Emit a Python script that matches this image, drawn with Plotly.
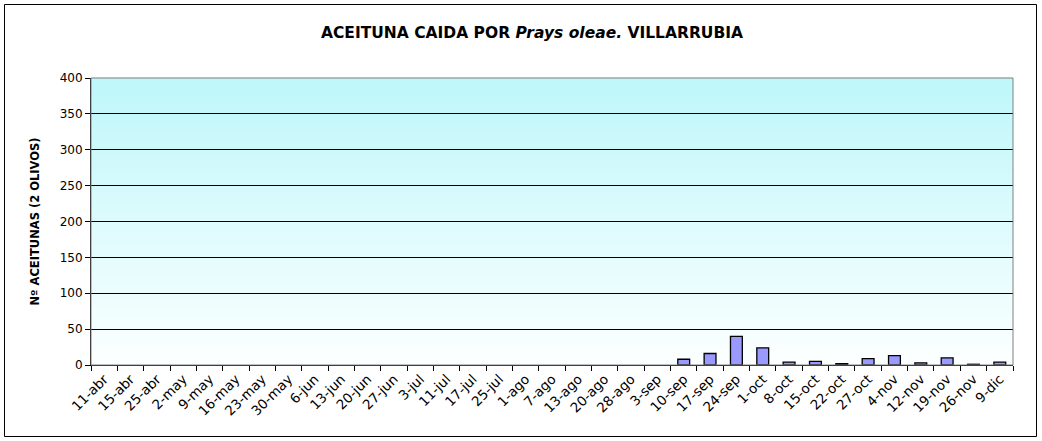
import plotly.graph_objects as go

fechas = ["11-abr", "15-abr", "25-abr", "2-may", "9-may", "16-may", "23-may", "30-may",
          "6-jun", "13-jun", "20-jun", "27-jun", "3-jul", "11-jul", "17-jul", "25-jul",
          "1-ago", "7-ago", "13-ago", "20-ago", "28-ago", "3-sep", "10-sep", "17-sep",
          "24-sep", "1-oct", "8-oct", "15-oct", "22-oct", "27-oct", "4-nov", "12-nov",
          "19-nov", "26-nov", "9-dic"]
aceitunas = [0, 0, 0, 0, 0, 0, 0, 0,
             0, 0, 0, 0, 0, 0, 0, 0,
             0, 0, 0, 0, 0, 0, 8, 16,
             40, 24, 4, 5, 2, 9, 13, 3,
             10, 1, 4]
y_ticks = [0, 50, 100, 150, 200, 250, 300, 350, 400]

FONT = "DejaVu Sans, Arial, sans-serif"
W, H = 1042, 441
L, R, T, B = 91, 29, 78, 76
pw, ph = W - L - R, H - T - B

fig = go.Figure()
fig.add_trace(go.Bar(
    x=fechas, y=aceitunas,
    marker=dict(color="#9999ff",
                line=dict(color="#000000", width=[1.3 if v > 0 else 0 for v in aceitunas])),
    width=0.45,
))

shapes = []
# gradient background bands (decoration)
n = 60
top = (190, 247, 250)
bot = (252, 255, 255)
for i in range(n):
    f = i / (n - 1)
    c = tuple(round(bot[k] + (top[k] - bot[k]) * f) for k in range(3))
    shapes.append(dict(type="rect", xref="paper", yref="paper",
                       x0=0, x1=1, y0=i / n, y1=(i + 1) / n + 0.002,
                       fillcolor="rgb(%d,%d,%d)" % c, line=dict(width=0), layer="below"))
# plot border (gray top/right)
shapes.append(dict(type="rect", xref="paper", yref="paper", x0=0, x1=1, y0=0, y1=1,
                   line=dict(color="#808080", width=1), fillcolor="rgba(0,0,0,0)", layer="above"))
# outer chart border
def px(xp):
    return (xp - L) / pw
def py(yp):
    return 1 - (yp - T) / ph
shapes.append(dict(type="rect", xref="paper", yref="paper",
                   x0=px(4.5), x1=px(1036.5), y0=py(436.5), y1=py(4.5),
                   line=dict(color="#000000", width=1), fillcolor="rgba(0,0,0,0)"))

fig.update_layout(
    width=W, height=H,
    margin=dict(l=L, r=R, t=T, b=B, autoexpand=False),
    paper_bgcolor="white",
    plot_bgcolor="rgba(0,0,0,0)",
    showlegend=False,
    font=dict(family=FONT, size=11, color="#000000"),
    title=dict(
        text="<b>ACEITUNA CAIDA POR <i>Prays oleae.</i> VILLARRUBIA</b>",
        x=532 / W, xanchor="center", xref="container", y=1 - 33 / H, yanchor="middle",
        font=dict(family=FONT, size=15.5, color="#000000"),
    ),
    shapes=shapes,
    bargap=0.55,
)
fig.update_xaxes(
    type="category", categoryorder="array", categoryarray=fechas,
    tickson="boundaries", ticks="outside", ticklen=5, tickcolor="#000000",
    tickangle=-45, showgrid=False, showline=True, linecolor="#000000", linewidth=1,
    tickfont=dict(family=FONT, size=13.5, color="#000000"), automargin=False,
)
fig.update_yaxes(
    range=[0, 400], tickvals=y_ticks, ticks="outside", ticklen=5, tickcolor="#000000",
    showgrid=True, gridcolor="#000000", gridwidth=1, zeroline=False,
    showline=True, linecolor="#000000", linewidth=1,
    tickfont=dict(family=FONT, size=12, color="#000000"), automargin=False,
    title=dict(text="<b>Nº ACEITUNAS (2 OLIVOS)</b>", standoff=17,
               font=dict(family=FONT, size=11.5, color="#000000")),
)
fig.write_html("out.html", config={"displayModeBar": False},
               post_script="document.body.style.margin='0';")
